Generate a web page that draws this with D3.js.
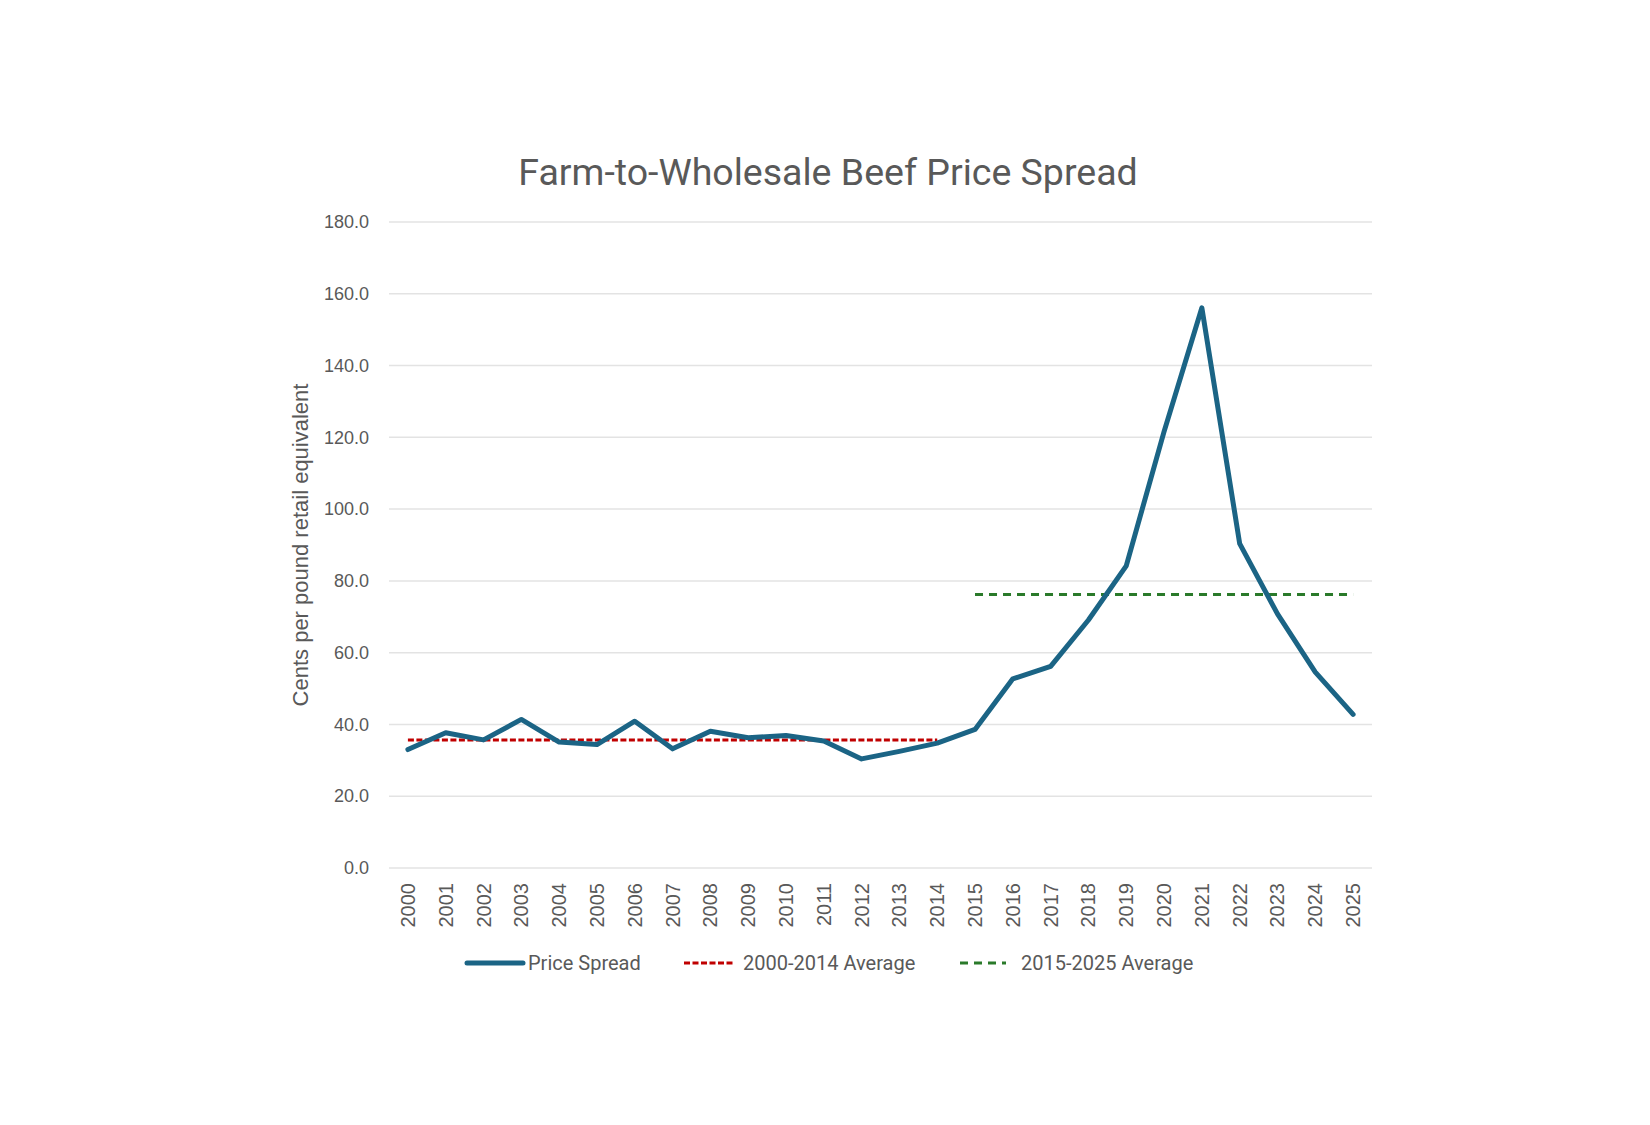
<html>
<head>
<meta charset="utf-8">
<style>
    body { margin: 0; background: #fff; }
    text { font-family: "Liberation Sans", Arial, sans-serif; fill: #595959; }
</style>
</head>
<body>
<svg id="chart" width="1650" height="1125"></svg>
<script src="https://cdn.jsdelivr.net/npm/d3@7"></script>
<script>
    // data
    let years = ["2000", "2001", "2002", "2003", "2004", "2005", "2006", "2007", "2008", "2009",
        "2010", "2011", "2012", "2013", "2014", "2015", "2016", "2017", "2018", "2019",
        "2020", "2021", "2022", "2023", "2024", "2025"]
    let priceSpread = [33.0, 37.7, 35.7, 41.4, 35.1, 34.4, 40.9, 33.2, 38.1, 36.3,
        36.9, 35.4, 30.4, 32.5, 34.8, 38.6, 52.7, 56.2, 69.1, 84.2,
        121.6, 156.1, 90.4, 70.8, 54.6, 42.8]
    let earlyYears = ["2000", "2014"]
    let earlyAverage = 35.7
    let lateYears = ["2015", "2025"]
    let lateAverage = 76.2
    let yTicks = [0, 20, 40, 60, 80, 100, 120, 140, 160, 180]

    let svg = d3.select("#chart")
    let plotLeft = 389, plotRight = 1372, plotTop = 222, plotBottom = 868

    let x = d3.scaleBand().domain(years).range([plotLeft, plotRight])
    let y = d3.scaleLinear().domain([0, 180]).range([plotBottom, plotTop])
    let cx = d => x(d) + x.bandwidth() / 2

    // grid
    svg.append("g").selectAll("line").data(yTicks)
        .enter().append("line")
        .attr("x1", plotLeft).attr("x2", plotRight)
        .attr("y1", d => y(d)).attr("y2", d => y(d))
        .attr("stroke", "#e3e3e3")
        .attr("stroke-width", 1.5)

    // y axis labels
    let yAxis = svg.append("g")
        .attr("transform", `translate(${plotLeft},0)`)
        .call(d3.axisLeft(y).tickValues(yTicks).tickFormat(d3.format(".1f")).tickSize(0).tickPadding(20))
    yAxis.select(".domain").remove()
    yAxis.attr("font-family", null).attr("font-size", null)
    yAxis.selectAll("text")
        .style("font-size", "18px")
        .attr("fill", "#595959")

    // x axis labels, rotated
    let xAxis = svg.append("g")
        .attr("transform", `translate(0,${plotBottom})`)
        .call(d3.axisBottom(x).tickSize(0).tickPadding(0))
    xAxis.select(".domain").remove()
    xAxis.attr("font-family", null).attr("font-size", null)
    xAxis.selectAll("text")
        .style("font-size", "20px")
        .attr("fill", "#595959")
        .attr("transform", "rotate(-90)")
        .attr("x", -15)
        .attr("y", 0)
        .attr("dy", "0.35em")
        .attr("text-anchor", "end")

    // average lines
    svg.append("line")
        .attr("x1", cx(earlyYears[0])).attr("x2", cx(earlyYears[1]))
        .attr("y1", y(earlyAverage)).attr("y2", y(earlyAverage))
        .attr("stroke", "#c00000")
        .attr("stroke-width", 3)
        .attr("stroke-dasharray", "6,2.5")

    svg.append("line")
        .attr("x1", cx(lateYears[0])).attr("x2", cx(lateYears[1]))
        .attr("y1", y(lateAverage)).attr("y2", y(lateAverage))
        .attr("stroke", "#2a7a2a")
        .attr("stroke-width", 3)
        .attr("stroke-dasharray", "8,6")

    // price spread line
    let line = d3.line()
        .x((d, i) => cx(years[i]))
        .y(d => y(d))

    svg.append("path")
        .datum(priceSpread)
        .attr("d", line)
        .attr("fill", "none")
        .attr("stroke", "#1b6485")
        .attr("stroke-width", 5)
        .attr("stroke-linejoin", "round")
        .attr("stroke-linecap", "round")

    // title
    svg.append("text")
        .attr("x", 828).attr("y", 185)
        .attr("text-anchor", "middle")
        .style("font-family", "Roboto, sans-serif")
        .style("font-size", "37.5px")
        .text("Farm-to-Wholesale Beef Price Spread")

    // y axis title
    svg.append("text")
        .attr("transform", "translate(300,545) rotate(-90)")
        .attr("text-anchor", "middle")
        .attr("dy", "0.35em")
        .style("font-size", "22px")
        .text("Cents per pound retail equivalent")

    // legend
    let legendY = 963
    let legend = [
        { label: "Price Spread", color: "#1b6485", width: 5, dash: null, x1: 467, x2: 523, tx: 528 },
        { label: "2000-2014 Average", color: "#c00000", width: 3, dash: "6,2.5", x1: 684, x2: 733, tx: 743 },
        { label: "2015-2025 Average", color: "#2a7a2a", width: 3, dash: "8,6", x1: 960, x2: 1006, tx: 1021 }
    ]
    let lg = svg.append("g").selectAll("g").data(legend).enter().append("g")
    lg.append("line")
        .attr("x1", d => d.x1).attr("x2", d => d.x2)
        .attr("y1", legendY).attr("y2", legendY)
        .attr("stroke", d => d.color)
        .attr("stroke-width", d => d.width)
        .attr("stroke-dasharray", d => d.dash)
        .attr("stroke-linecap", d => d.dash ? "butt" : "round")
    lg.append("text")
        .attr("x", d => d.tx).attr("y", legendY)
        .attr("dy", "0.35em")
        .style("font-family", "Roboto, sans-serif")
        .style("font-size", "20px")
        .text(d => d.label)
</script>
</body>
</html>
